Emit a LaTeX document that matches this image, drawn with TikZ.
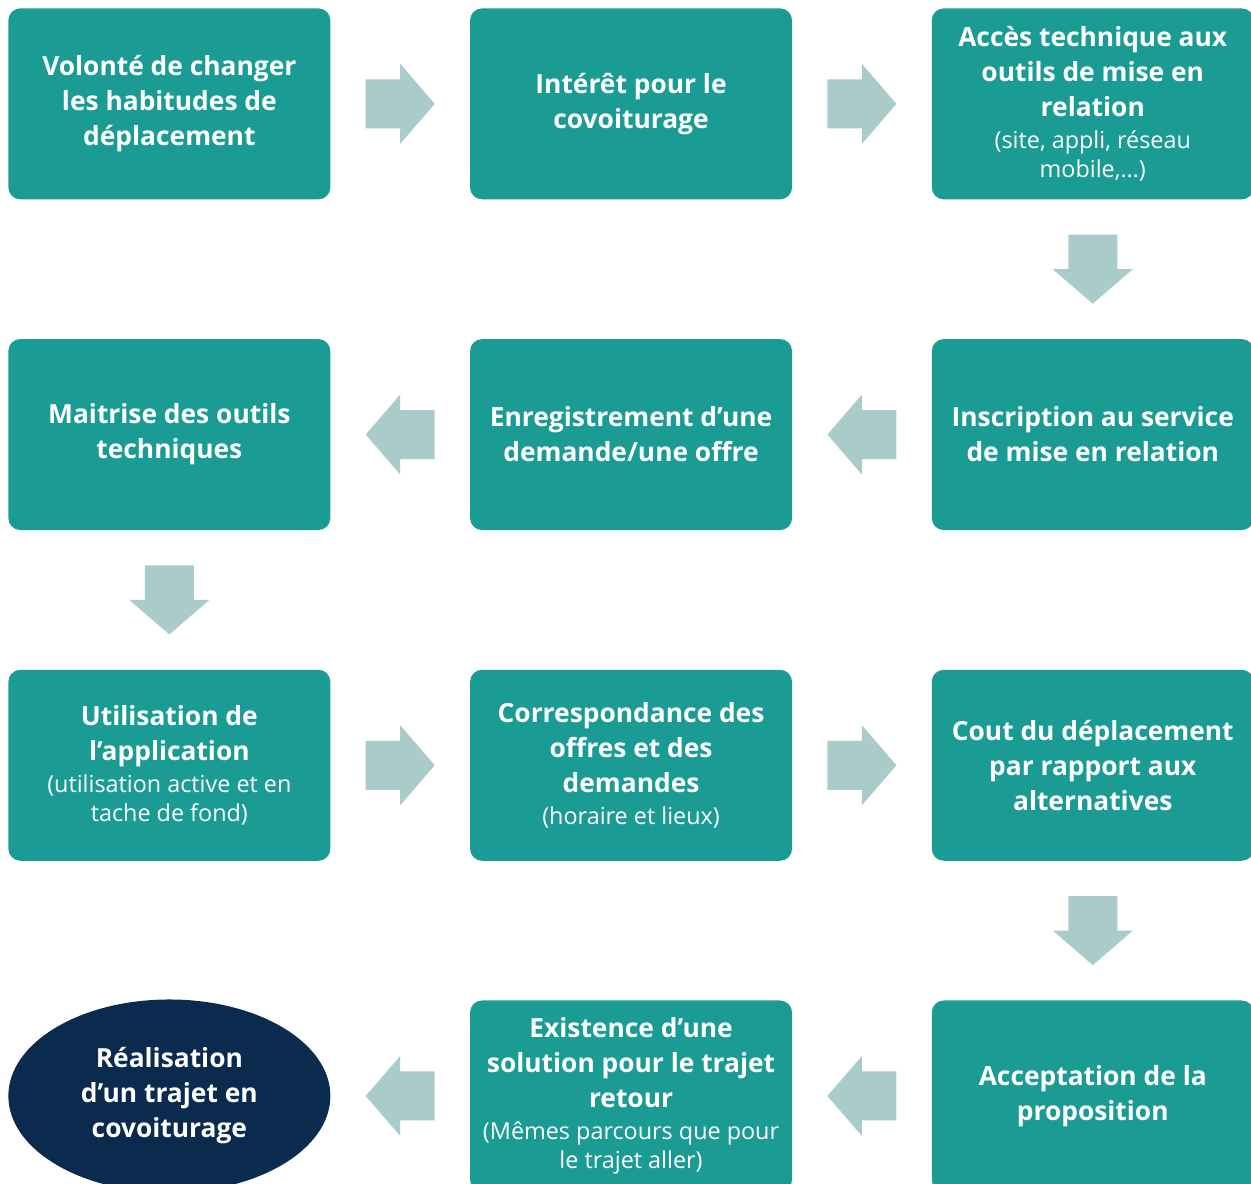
\documentclass[tikz,border=0pt]{standalone}
\usepackage{fontspec}
\setmainfont{Open Sans}
\usetikzlibrary{positioning,shapes.geometric,calc}

\definecolor{sarcelle}{HTML}{1A9C95}
\definecolor{grisvert}{HTML}{A9CBC9}
\definecolor{marine}{HTML}{0A2A4E}

\newcommand{\detail}[1]{{\fontsize{13.3}{16.4}\selectfont\mdseries #1}}

\tikzset{
  etape/.style={rectangle, rounded corners=0.24cm, fill=sarcelle, text=white,
    minimum width=6.44cm, minimum height=3.82cm, align=center, inner sep=2pt,
    font=\fontsize{15}{19.9}\selectfont\bfseries},
  fin/.style={ellipse, fill=marine, text=white, minimum width=6.44cm,
    minimum height=3.86cm, align=center, inner sep=0pt,
    font=\fontsize{15}{19.9}\selectfont\bfseries},
  fleche/.pic={\fill[grisvert] (-0.69,-0.49) -- (0,-0.49) -- (0,-0.8) -- (0.69,0)
    -- (0,0.8) -- (0,0.49) -- (-0.69,0.49) -- cycle;}
}

\begin{document}
\begin{tikzpicture}
\useasboundingbox (0,0) rectangle (25.02,-23.66);

% ligne 1
\node[etape, anchor=north west] (volonte) at (0.16,-0.16) {Volonté de changer\\les habitudes de\\déplacement};
\node[etape, right=2.78cm of volonte] (interet) {Intérêt pour le\\covoiturage};
\node[etape, right=2.78cm of interet] (acces) {Accès technique aux\\outils de mise en\\relation\\[-1.5pt]\detail{(site, appli, réseau}\\[-3.5pt]\detail{mobile,…)}};

% ligne 2
\node[etape, below=2.78cm of acces] (inscription) {Inscription au service\\de mise en relation};
\node[etape, left=2.78cm of inscription] (enregistrement) {Enregistrement d’une\\demande/une offre};
\node[etape, left=2.78cm of enregistrement] (maitrise) {Maitrise des outils\\techniques};

% ligne 3
\node[etape, below=2.78cm of maitrise] (utilisation) {Utilisation de\\l’application\\[-1.5pt]\detail{(utilisation active et en}\\[-3.5pt]\detail{tache de fond)}};
\node[etape, right=2.78cm of utilisation] (correspondance) {Correspondance des\\offres et des\\demandes\\[-1.5pt]\detail{(horaire et lieux)}};
\node[etape, right=2.78cm of correspondance] (cout) {Cout du déplacement\\par rapport aux\\alternatives};

% ligne 4
\node[etape, below=2.78cm of cout] (acceptation) {Acceptation de la\\proposition};
\node[etape, left=2.78cm of acceptation] (existence) {Existence d’une\\solution pour le trajet\\retour\\[-1.5pt]\detail{(Mêmes parcours que pour}\\[-3.5pt]\detail{le trajet aller)}};
\node[fin, left=2.78cm of existence] (realisation) {Réalisation\\d’un trajet en\\covoiturage};

% fleches
\pic at ($(volonte.east)!0.5!(interet.west)$) {fleche};
\pic at ($(interet.east)!0.5!(acces.west)$) {fleche};
\pic[rotate=-90] at ($(acces.south)!0.5!(inscription.north)$) {fleche};
\pic[rotate=180] at ($(inscription.west)!0.5!(enregistrement.east)$) {fleche};
\pic[rotate=180] at ($(enregistrement.west)!0.5!(maitrise.east)$) {fleche};
\pic[rotate=-90] at ($(maitrise.south)!0.5!(utilisation.north)$) {fleche};
\pic at ($(utilisation.east)!0.5!(correspondance.west)$) {fleche};
\pic at ($(correspondance.east)!0.5!(cout.west)$) {fleche};
\pic[rotate=-90] at ($(cout.south)!0.5!(acceptation.north)$) {fleche};
\pic[rotate=180] at ($(acceptation.west)!0.5!(existence.east)$) {fleche};
\pic[rotate=180] at ($(existence.west)!0.5!(realisation.east)$) {fleche};

\end{tikzpicture}
\end{document}
